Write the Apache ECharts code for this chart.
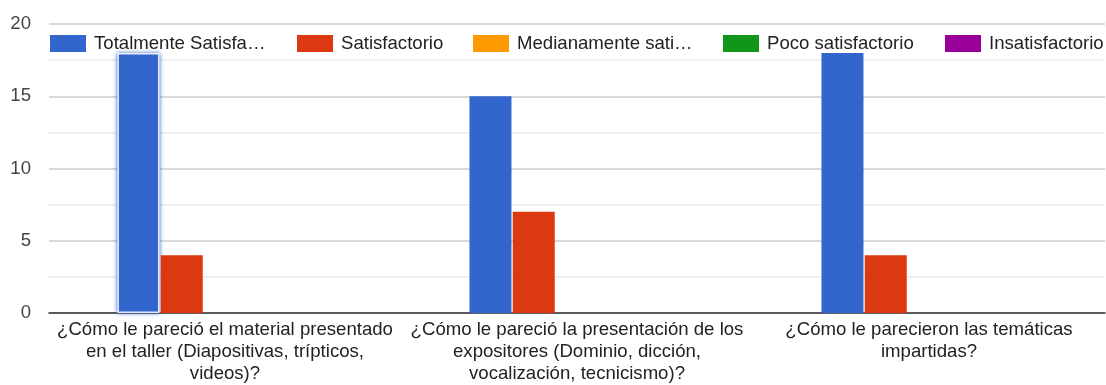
<!DOCTYPE html>
<html>
<head>
<meta charset="utf-8">
<script src="https://cdn.jsdelivr.net/npm/echarts@6/dist/echarts.min.js"></script>
<style>
  html, body { margin: 0; padding: 0; background: #fff; }
  #chart { width: 1106px; height: 385px; }
</style>
</head>
<body>
<div id="chart"></div>
<script>
// Survey questions (x categories), wrapped onto lines
const categories = [
  '¿Cómo le pareció el material presentado\nen el taller (Diapositivas, trípticos,\nvideos)?',
  '¿Cómo le pareció la presentación de los\nexpositores (Dominio, dicción,\nvocalización, tecnicismo)?',
  '¿Cómo le parecieron las temáticas\nimpartidas?'
];

// Answer options and their legend text
const seriesNames = ['Totalmente Satisfactorio', 'Satisfactorio', 'Medianamente satisfactorio', 'Poco satisfactorio', 'Insatisfactorio'];
const legendLabels = ['Totalmente Satisfa…', 'Satisfactorio', 'Medianamente sati…', 'Poco satisfactorio', 'Insatisfactorio'];
const seriesColors = ['#3366cc', '#dc3912', '#ff9900', '#109618', '#990099'];

// Response counts per option
const totalmenteSatisfactorio = [18, 15, 18];
const satisfactorio = [4, 7, 4];
const medianamenteSatisfactorio = [0, 0, 0];
const pocoSatisfactorio = [0, 0, 0];
const insatisfactorio = [0, 0, 0];

// Y axis ticks
const yTicks = [0, 5, 10, 15, 20];

const values = [totalmenteSatisfactorio, satisfactorio, medianamenteSatisfactorio, pocoSatisfactorio, insatisfactorio];

const font = '"Liberation Sans", Arial, sans-serif';
const fontSize = 18.6;
const legendLeft = [50, 297, 473, 723, 945];

const chart = echarts.init(document.getElementById('chart'), null, { renderer: 'canvas' });

const series = values.map((vals, i) => ({
  name: seriesNames[i],
  type: 'bar',
  barWidth: 42,
  barGap: '3%',
  itemStyle: { color: seriesColors[i] },
  data: vals.map((v, j) => {
    // first bar is shown in its selected state
    if (i === 0 && j === 0) {
      return {
        value: v,
        itemStyle: {
          borderColor: 'rgba(255,255,255,0.85)',
          borderWidth: 1.5,
          shadowColor: 'rgba(51,102,204,1)',
          shadowBlur: 4
        }
      };
    }
    return v;
  })
}));

const legends = seriesNames.map((name, i) => ({
  data: [name],
  left: legendLeft[i],
  top: 34,
  padding: 0,
  itemWidth: 36,
  itemHeight: 17,
  icon: 'rect',
  selectedMode: false,
  formatter: () => legendLabels[i],
  textStyle: { fontFamily: font, fontSize: fontSize, color: '#222', padding: [0, 0, 0, 3] }
}));

chart.setOption({
  animation: false,
  backgroundColor: '#fff',
  legend: legends,
  grid: { left: 49, right: 1, top: 24, bottom: 72, containLabel: false, outerBoundsMode: 'none' },
  xAxis: {
    type: 'category',
    data: categories,
    axisTick: { show: false },
    axisLine: { lineStyle: { color: '#333', width: 1.5 } },
    axisLabel: {
      interval: 0,
      fontFamily: font,
      fontSize: fontSize,
      color: '#222',
      margin: 6,
      lineHeight: 22
    }
  },
  yAxis: {
    type: 'value',
    min: 0,
    max: yTicks[yTicks.length - 1],
    interval: 2.5,
    axisLine: { show: false },
    axisTick: { show: false },
    axisLabel: {
      fontFamily: font,
      fontSize: fontSize,
      color: '#444',
      margin: 18,
      formatter: v => (yTicks.indexOf(v) >= 0 ? String(v) : '')
    },
    splitLine: { lineStyle: { color: ['#cccccc', '#ebebeb'], width: 1.5 } }
  },
  series: series
});
</script>
</body>
</html>
